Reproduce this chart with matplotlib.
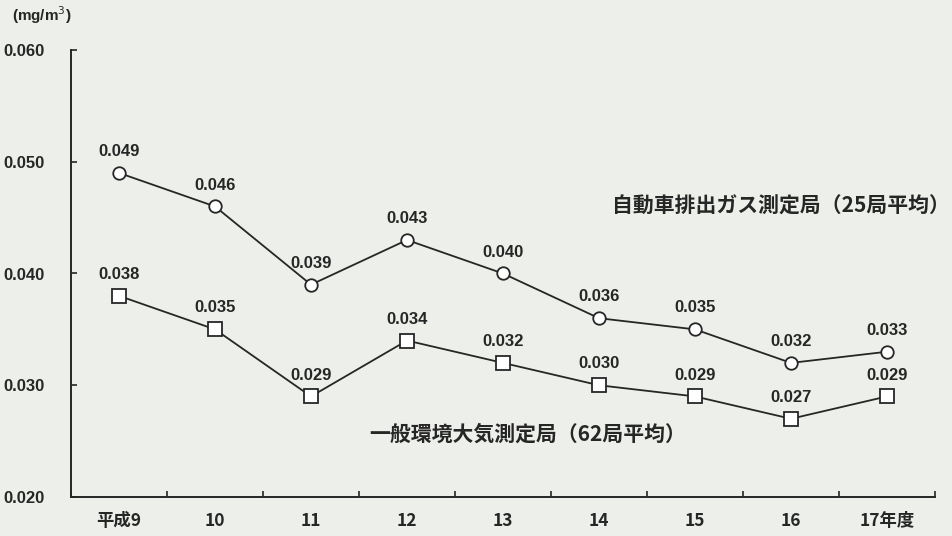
import matplotlib.pyplot as plt

years = ['平成9', '10', '11', '12', '13', '14', '15', '16', '17年度']
roadside = [0.049, 0.046, 0.039, 0.043, 0.040, 0.036, 0.035, 0.032, 0.033]
ambient = [0.038, 0.035, 0.029, 0.034, 0.032, 0.030, 0.029, 0.027, 0.029]
roadside_name = '自動車排出ガス測定局（25局平均）'
ambient_name = '一般環境大気測定局（62局平均）'
yticks = [0.020, 0.030, 0.040, 0.050, 0.060]

bg = '#edf0ea'
ink = '#262626'
num_font = 'Liberation Sans'
jp_font = ['Noto Sans CJK JP', 'DejaVu Sans']

fig = plt.figure(figsize=(9.53, 5.36), dpi=100, facecolor=bg)
ax = fig.add_axes([71 / 953, 39 / 536, 864 / 953, 447 / 536])
ax.set_facecolor(bg)

x = list(range(len(years)))
ax.plot(x, roadside, color=ink, lw=1.3, marker='o', ms=9,
        mfc='white', mec=ink, mew=1.3, zorder=3)
ax.plot(x, ambient, color=ink, lw=1.3, marker='s', ms=9.5,
        mfc='white', mec=ink, mew=1.3, zorder=3)

for series in (roadside, ambient):
    for xi, v in zip(x, series):
        ax.annotate(f'{v:.3f}', (xi, v), xytext=(0, 10), textcoords='offset points',
                    ha='center', va='bottom', fontsize=12, family=num_font,
                    fontweight='bold', color=ink)

ax.text(5.14, 0.0460, roadside_name, fontsize=15, family=jp_font,
        fontweight='bold', color=ink, va='center', ha='left')
ax.text(2.61, 0.0256, ambient_name, fontsize=15, family=jp_font,
        fontweight='bold', color=ink, va='center', ha='left')

ax.set_xlim(-0.5, len(years) - 0.5)
ax.set_ylim(0.020, 0.060)

# category boundaries carry the tick marks, names sit in between
ax.set_xticks([i - 0.5 for i in range(len(years) + 1)])
ax.set_xticklabels([])
ax.set_xticks(x, minor=True)
ax.set_xticklabels(years, minor=True, fontsize=12.5, family=jp_font,
                   fontweight='bold', color=ink)
ax.tick_params(axis='x', which='major', direction='in', length=4, width=1.2, color=ink)
ax.tick_params(axis='x', which='minor', length=0, pad=11)

ax.set_yticks(yticks)
ax.set_yticklabels([f'{t:.3f}' for t in yticks], fontsize=12, family=num_font,
                   fontweight='bold', color=ink)
ax.tick_params(axis='y', direction='in', length=4, width=1.2, color=ink, pad=19)

for side in ['top', 'right']:
    ax.spines[side].set_visible(False)
for side in ['left', 'bottom']:
    ax.spines[side].set_color(ink)
    ax.spines[side].set_linewidth(1.4)

fig.text(12 / 953, 1 - 15 / 536, '(mg/m$^3$)', fontsize=11, family=num_font,
         fontweight='bold', color=ink, ha='left', va='center')

fig.savefig('out.png', dpi=100, facecolor=bg)
